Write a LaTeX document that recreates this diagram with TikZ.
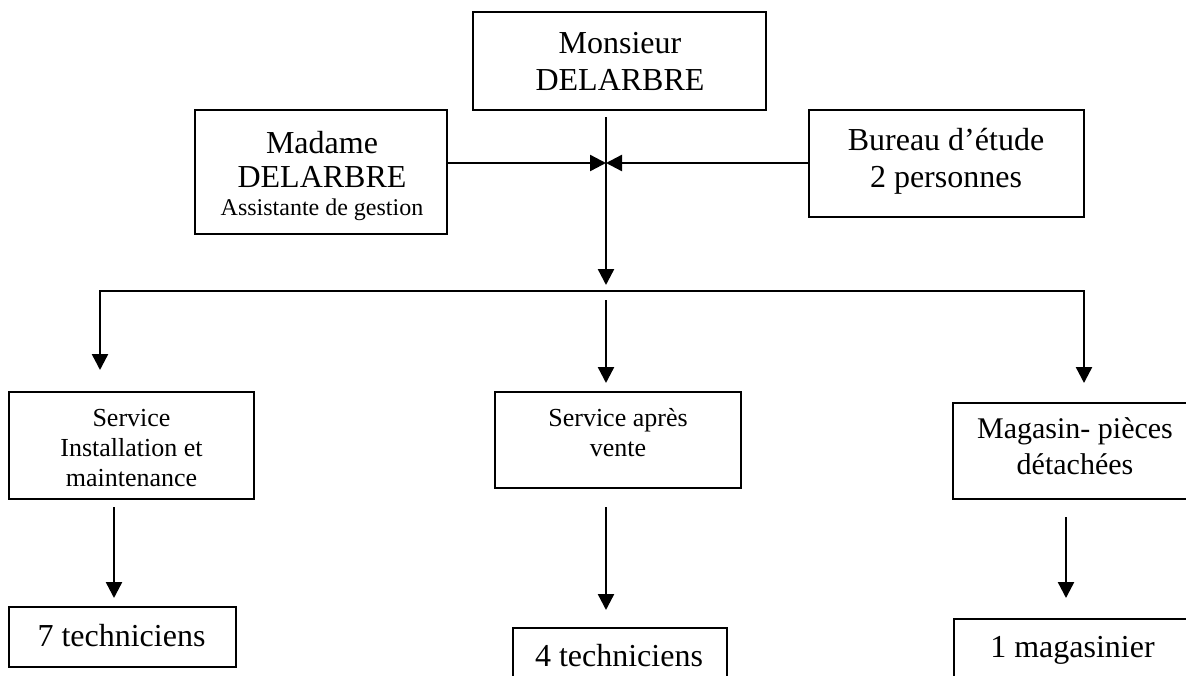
\documentclass[tikz,border=0pt]{standalone}
\usepackage{fontspec}
\setmainfont{Liberation Serif}
\usetikzlibrary{arrows.meta}
\tikzset{
  box/.style={draw, line width=2pt, rectangle, inner sep=0pt, outer sep=0pt},
  txt/.style={align=center, inner sep=0pt, outer sep=0pt},
  big/.style={font=\fontsize{32}{37}\selectfont},
  mid/.style={font=\fontsize{26}{30}\selectfont},
  arr/.style={line width=2.4pt, -{Triangle[length=16pt,width=16pt]}},
  ln/.style={line width=2.4pt},
}
\begin{document}
\begin{tikzpicture}[x=1pt,y=-1pt]
\useasboundingbox (0,0) rectangle (1186,675);
\clip (0,0) rectangle (1186,675);
% boxes
\node[box, minimum width=293pt, minimum height=98pt] (mon) at (619.5,61) {};
\node[box, minimum width=252pt, minimum height=124pt] (mad) at (321,172) {};
\node[box, minimum width=275pt, minimum height=107pt] (bur) at (946.5,163.5) {};
\node[box, minimum width=245pt, minimum height=107pt] (sim) at (131.5,445.5) {};
\node[box, minimum width=246pt, minimum height=96pt] (sav) at (618,440) {};
\node[box, minimum width=247pt, minimum height=96pt] (mag) at (1076.5,451) {};
\node[box, minimum width=227pt, minimum height=60pt] (t7) at (122.5,637) {};
\node[box, minimum width=214pt, minimum height=62pt] (t4) at (620,659) {};
\node[box, minimum width=246pt, minimum height=71pt] (t1) at (1077,654.5) {};
% texts
\node[txt, big] (mon-t) at (620,61) {Monsieur\\DELARBRE};
\node[txt, font=\fontsize{32}{34}\selectfont] (mad-t) at (322,176) {Madame\\DELARBRE\\[-6pt]{\fontsize{24}{28}\selectfont Assistante de gestion}};
\node[txt, big] (bur-t) at (946,161.5) {Bureau d'étude\\2 personnes};
\node[txt, mid] (sim-t) at (131.5,448) {Service\\Installation et\\maintenance};
\node[txt, mid] (sav-t) at (618,433) {Service après\\vente};
\node[txt, font=\fontsize{30}{36}\selectfont] (mag-t) at (1075,446) {Magasin- pièces\\détachées};
\node[txt, big] (t7-t) at (121.5,636) {7 techniciens};
\node[txt, big] (t4-t) at (619,656) {4 techniciens};
\node[txt, big] (t1-t) at (1072.5,650.5) {1 magasinier};
% coordinates
\coordinate (jn) at (606,163);
\coordinate (bar) at (606,291);
\coordinate (lft) at (100,291);
\coordinate (rgt) at (1084,291);
\coordinate (ax1) at (114,0);
\coordinate (ax3) at (1066,0);
% connectors
\draw[arr] (mad.east |- jn) -- (jn);
\draw[arr] (bur.west |- jn) -- (jn);
\draw[arr, shorten <=7pt, shorten >=6pt] (mon.south -| jn) -- (bar);
\draw[ln, line cap=rect] (lft) -- (rgt);
\draw[arr, shorten >=22pt] (lft) -- (sim.north -| lft);
\draw[arr, shorten <=9pt, shorten >=9pt] (bar) -- (sav.north -| bar);
\draw[arr, shorten >=20pt] (rgt) -- (mag.north -| rgt);
\draw[arr, shorten <=8pt, shorten >=9pt] (sim.south -| ax1) -- (t7.north -| ax1);
\draw[arr, shorten <=19pt, shorten >=18pt] (sav.south -| bar) -- (t4.north -| bar);
\draw[arr, shorten <=18pt, shorten >=21pt] (mag.south -| ax3) -- (t1.north -| ax3);
\end{tikzpicture}
\end{document}
